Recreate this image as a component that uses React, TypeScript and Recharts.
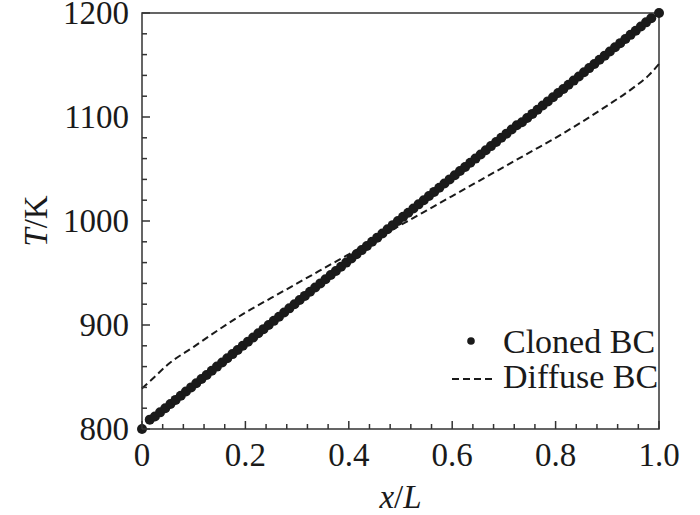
import { ComposedChart, Line, Scatter, XAxis, YAxis, ReferenceArea, Legend, Label } from 'recharts'

// Cloned BC: wall points at 0 and 1, interior cell values in between
const cloneX = [
  0,
  0.015, 0.025, 0.035, 0.045, 0.055, 0.065, 0.075, 0.085, 0.095,
  0.105, 0.115, 0.125, 0.135, 0.145, 0.155, 0.165, 0.175, 0.185, 0.195,
  0.205, 0.215, 0.225, 0.235, 0.245, 0.255, 0.265, 0.275, 0.285, 0.295,
  0.305, 0.315, 0.325, 0.335, 0.345, 0.355, 0.365, 0.375, 0.385, 0.395,
  0.405, 0.415, 0.425, 0.435, 0.445, 0.455, 0.465, 0.475, 0.485, 0.495,
  0.505, 0.515, 0.525, 0.535, 0.545, 0.555, 0.565, 0.575, 0.585, 0.595,
  0.605, 0.615, 0.625, 0.635, 0.645, 0.655, 0.665, 0.675, 0.685, 0.695,
  0.705, 0.715, 0.725, 0.735, 0.745, 0.755, 0.765, 0.775, 0.785, 0.795,
  0.805, 0.815, 0.825, 0.835, 0.845, 0.855, 0.865, 0.875, 0.885, 0.895,
  0.905, 0.915, 0.925, 0.935, 0.945, 0.955, 0.965, 0.975, 0.985,
  1,
]
const cloneT = [
  800,
  809, 812, 816, 820, 824, 828, 832, 836, 840,
  844, 848, 852, 856, 860, 864, 868, 872, 876, 880,
  884, 888, 892, 896, 900, 904, 908, 912, 916, 920,
  924, 928, 932, 936, 940, 944, 948, 952, 956, 960,
  964, 968, 972, 976, 980, 984, 988, 992, 996, 1000,
  1004, 1008, 1012, 1016, 1020, 1024, 1028, 1032, 1036, 1040,
  1044, 1048, 1052, 1056, 1060, 1064, 1068, 1072, 1076, 1080,
  1084, 1088, 1092, 1095, 1099, 1103, 1107, 1111, 1115, 1119,
  1123, 1127, 1131, 1135, 1139, 1143, 1147, 1151, 1155, 1159,
  1163, 1167, 1171, 1175, 1179, 1183, 1187, 1191, 1195,
  1200,
]

// Diffuse BC
const diffX = [0, 0.02, 0.05, 0.1, 0.15, 0.2, 0.25, 0.3, 0.35, 0.4, 0.45, 0.5, 0.55, 0.6, 0.65, 0.7, 0.75, 0.8, 0.85, 0.9, 0.95, 0.98, 1.0]
const diffT = [839, 848, 862, 879, 896, 912, 926, 940, 954, 968, 982, 996, 1010, 1024, 1038, 1052, 1066, 1080, 1095, 1111, 1128, 1140, 1151]

const xTicks = [0, 0.04, 0.08, 0.12, 0.16, 0.2, 0.24, 0.28, 0.32, 0.36, 0.4, 0.44, 0.48, 0.52, 0.56, 0.6, 0.64, 0.68, 0.72, 0.76, 0.8, 0.84, 0.88, 0.92, 0.96, 1.0]
const xMajor = [0, 0.2, 0.4, 0.6, 0.8, 1.0]
const xLabels = ['0', '0.2', '0.4', '0.6', '0.8', '1.0']
const yTicks = [800, 820, 840, 860, 880, 900, 920, 940, 960, 980, 1000, 1020, 1040, 1060, 1080, 1100, 1120, 1140, 1160, 1180, 1200]
const yMajor = [800, 900, 1000, 1100, 1200]

const INK = '#1a1a1a'
const AXIS = '#333'
const FONT = '"Liberation Serif", "Times New Roman", serif'

const cloned = cloneX.map((x, i) => ({ x, T: cloneT[i] }))
const diffuse = diffX.map((x, i) => ({ x, T: diffT[i] }))

const majorIndex = (list: number[], v: number) => list.findIndex((m) => Math.abs(m - v) < 1e-6)

function XTick({ x, y, payload }: any) {
  const i = majorIndex(xMajor, payload.value)
  return (
    <g>
      <line x1={x} x2={x} y1={y} y2={y - (i >= 0 ? 8 : 5)} stroke={AXIS} strokeWidth={1.5} />
      {i >= 0 && (
        <text x={x} y={y + 37} textAnchor="middle" fontSize={33} fontFamily={FONT} fill={INK}>
          {xLabels[i]}
        </text>
      )}
    </g>
  )
}

function YTick({ x, y, payload }: any) {
  const i = majorIndex(yMajor, payload.value)
  return (
    <g>
      <line x1={x} x2={x + (i >= 0 ? 8 : 5)} y1={y} y2={y} stroke={AXIS} strokeWidth={1.5} />
      {i >= 0 && (
        <text x={x - 13} y={y + 11} textAnchor="end" fontSize={33} fontFamily={FONT} fill={INK}>
          {yMajor[i]}
        </text>
      )}
    </g>
  )
}

function LegendBox() {
  return (
    <svg width={240} height={90} style={{ overflow: 'visible' }}>
      <circle cx={31} cy={31} r={3.8} fill={INK} />
      <text x={63} y={43} fontSize={34} fontFamily={FONT} fill={INK}>Cloned BC</text>
      <line x1={12} x2={52} y1={69} y2={69} stroke={INK} strokeWidth={2} strokeDasharray="7 4" />
      <text x={63} y={78} fontSize={34} fontFamily={FONT} fill={INK}>Diffuse BC</text>
    </svg>
  )
}

export default function App() {
  return (
    <div style={{ position: 'absolute', left: 0, top: 0, width: 700, height: 515, background: '#fff' }}>
      <ComposedChart width={700} height={515} margin={{ top: 13, right: 41, bottom: 0, left: 0 }}>
        <XAxis
          type="number"
          dataKey="x"
          domain={[0, 1]}
          ticks={xTicks}
          interval={0}
          height={86}
          tickSize={0}
          tickMargin={0}
          tickLine={false}
          axisLine={false}
          tick={(p: any) => <XTick {...p} />}
        >
          <Label
            content={({ viewBox }: any) => (
              <text x={viewBox.x + viewBox.width / 2} y={viewBox.y + 79} textAnchor="middle" fontSize={33} fontFamily={FONT} fill={INK}>
                <tspan fontStyle="italic">x</tspan>/<tspan fontStyle="italic">L</tspan>
              </text>
            )}
          />
        </XAxis>
        <YAxis
          type="number"
          dataKey="T"
          domain={[800, 1200]}
          ticks={yTicks}
          interval={0}
          width={142}
          tickSize={0}
          tickMargin={0}
          tickLine={false}
          axisLine={false}
          tick={(p: any) => <YTick {...p} />}
        >
          <Label
            content={({ viewBox }: any) => {
              const cx = viewBox.x + 36
              const cy = viewBox.y + viewBox.height / 2
              return (
                <text x={cx} y={cy} transform={`rotate(-90 ${cx} ${cy})`} textAnchor="middle" dominantBaseline="central" fontSize={33} fontFamily={FONT} fill={INK}>
                  <tspan fontStyle="italic">T</tspan>/K
                </text>
              )
            }}
          />
        </YAxis>
        <ReferenceArea x1={0} x2={1} y1={800} y2={1200} fill="none" stroke={AXIS} strokeWidth={1.5} ifOverflow="visible" />
        <Line
          data={diffuse}
          dataKey="T"
          type="monotone"
          stroke={INK}
          strokeWidth={2}
          strokeDasharray="7 4"
          dot={false}
          activeDot={false}
          isAnimationActive={false}
          name="Diffuse BC"
        />
        <Scatter
          data={cloned}
          dataKey="T"
          fill={INK}
          shape={(p: any) => <circle cx={p.cx} cy={p.cy} r={5} fill={INK} />}
          isAnimationActive={false}
          name="Cloned BC"
        />
        <Legend
          layout="horizontal"
          verticalAlign="middle"
          align="center"
          content={() => <LegendBox />}
          wrapperStyle={{ position: 'absolute', left: 440, top: 310, width: 240, height: 90 }}
        />
      </ComposedChart>
    </div>
  )
}
